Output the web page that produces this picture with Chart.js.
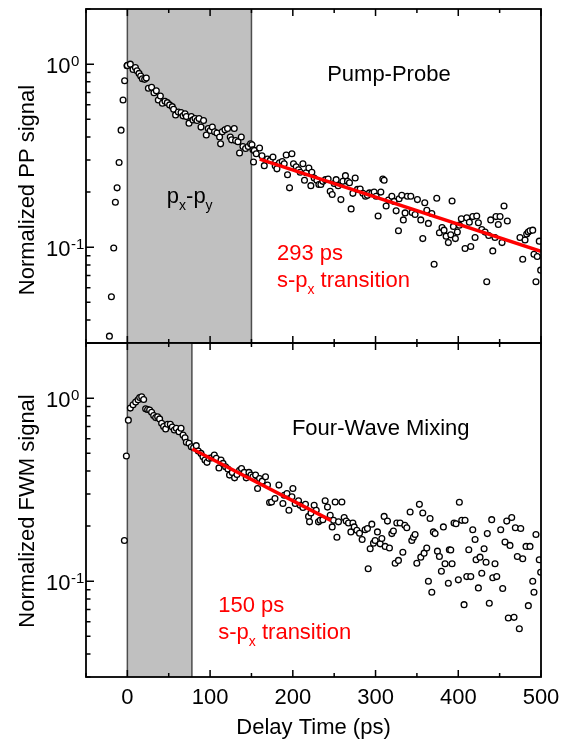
<!DOCTYPE html>
<html>
<head>
<meta charset="utf-8">
<script src="https://cdn.jsdelivr.net/npm/chart.js@4.4.1/dist/chart.umd.min.js"></script>
<style>
  html, body { margin: 0; padding: 0; background: #fff; }
  body { width: 570px; height: 745px; position: relative; overflow: hidden; }
  canvas { position: absolute; left: 0; }
  #c1 { top: 0; }
  #c2 { top: 340px; }
</style>
</head>
<body>
<canvas id="c1" width="570" height="345"></canvas>
<canvas id="c2" width="570" height="405"></canvas>
<script>
// ---------------- DATA ----------------
// Pump-probe (top panel): delay time (ps) and normalized PP signal
const ppTime = [-21.7,-19.3,-16.5,-14.5,-12.4,-10.0,-7.6,-5.2,-3.3,-0.4,
  0,3.6,6.9,9.7,11.7,14.1,16.1,18.1,20.9,22.9,25.4,29.3,32.2,35.0,37.4,39.9,42.3,45.5,48.3,51.1,
  54.3,55.9,58.3,61.6,64.9,67.3,69.7,71.3,74.5,77.3,79.3,81.8,84.2,86.6,89.0,92.1,95.4,97.8,100.2,102.7,
  105.4,108.3,111.5,112.7,114.7,118.0,121.1,124.4,126.0,129.2,130.8,133.7,135.6,137.7,139.7,142.9,146.1,148.9,150.6,151.8,
  152.5,153.4,155.8,159.8,162.7,165.5,169.4,172.7,176.0,178.7,180.8,183.9,187.2,189.6,192.0,193.6,196.0,198.9,200.8,204.1,
  206.9,208.9,212.2,214.1,216.2,219.4,221.8,223.0,225.8,229.1,231.5,233.9,236.3,239.5,242.7,245.2,247.6,250.0,252.4,254.8,
  258.1,260.5,263.6,266.1,268.5,270.5,272.6,275.4,278.1,281.4,284.7,287.8,290.2,292.6,295.5,298.3,300.7,303.1,306.4,308.8,
  310.4,312.8,315.6,319.7,322.5,324.9,327.7,328.5,331.7,333.6,335.7,338.5,342.6,344.2,347.8,350.6,354.7,357.1,359.5,362.0,
  363.9,368.0,370.8,374.0,377.2,380.4,382.8,385.3,388.0,390.9,392.5,394.1,396.5,398.9,401.3,403.7,408.2,410.3,413.4,415.1,
  417.5,420.3,422.3,424.3,428.4,432.4,434.4,436.8,439.2,441.7,444.4,445.6,448.4,450.5,452.9,455.3,459.3,474.6,477.9,480.7,
  482.7,484.6,486.7,490.0,491.5,493.9,495.5,497.9,499.6];
const ppSignal = [0.0327,0.0537,0.099,0.176,0.211,0.290,0.436,0.637,0.811,0.980,
  0.984,1.0,0.936,0.959,0.920,0.890,0.861,0.832,0.826,0.839,0.738,0.747,0.698,0.716,0.637,0.670,0.612,0.627,0.616,0.599,
  0.586,0.567,0.528,0.548,0.544,0.522,0.535,0.517,0.476,0.517,0.496,0.504,0.492,0.504,0.453,0.492,0.410,0.445,0.434,0.453,
  0.427,0.420,0.400,0.367,0.427,0.438,0.445,0.400,0.386,0.445,0.383,0.377,0.327,0.400,0.355,0.346,0.355,0.367,0.363,0.341,
  0.292,0.338,0.324,0.348,0.316,0.279,0.303,0.298,0.311,0.279,0.268,0.289,0.294,0.286,0.319,0.249,0.211,0.324,0.286,0.275,
  0.265,0.257,0.286,0.232,0.255,0.271,0.217,0.257,0.239,0.232,0.220,0.220,0.229,0.234,0.236,0.202,0.194,0.223,0.234,0.217,
  0.182,0.229,0.246,0.229,0.225,0.162,0.197,0.239,0.207,0.208,0.197,0.190,0.192,0.198,0.197,0.200,0.190,0.148,0.200,0.236,
  0.232,0.168,0.181,0.190,0.178,0.158,0.123,0.184,0.192,0.141,0.154,0.190,0.190,0.155,0.151,0.182,0.141,0.1115,0.175,0.159,
  0.135,0.153,0.0808,0.185,0.120,0.128,0.124,0.115,0.106,0.117,0.179,0.130,0.1115,0.121,0.132,0.143,0.0984,0.145,0.137,0.101,
  0.147,0.113,0.148,0.136,0.125,0.121,0.0648,0.116,0.141,0.0955,0.113,0.147,0.133,0.147,0.106,0.168,0.139,0.113,0.086,0.1096,
  0.118,0.121,0.123,0.124,0.0916,0.0648,0.089,0.108,0.075];
// exponential fit (293 ps) end points
const ppFitTime = [160, 500];
const ppFitSignal = [0.303, 0.095];
const ppShade = [0, 150];

// Four-wave mixing (bottom panel)
const fwmTime = [-3.6,-1.2,1.2,3.6,6.9,10.0,12.9,14.9,17.3,19.7,22.1,24.5,26.9,29.3,31.8,34.2,36.6,39.0,41.4,43.8,
  46.3,48.7,51.9,54.3,56.8,59.2,62.4,64.9,67.3,69.7,71.3,74.5,77.3,80.1,83.3,85.7,89.0,91.4,93.8,96.3,
  98.7,101.8,105.1,107.5,110.7,113.2,115.6,118.7,121.6,123.5,126.8,129.6,132.5,135.6,138.0,141.3,143.7,147.0,149.4,151.8,
  155.0,157.4,159.8,163.0,167.0,169.4,171.9,174.3,178.4,183.2,188.0,189.6,192.9,195.3,198.9,200.1,202.9,206.9,208.9,212.2,
  215.3,219.0,220.2,221.9,225.8,228.3,231.0,233.1,236.3,239.1,241.9,245.2,247.6,249.2,251.2,253.3,255.2,259.3,262.1,264.5,
  267.3,270.2,272.6,274.2,277.4,280.6,283.8,287.4,290.2,291.1,293.5,295.5,297.5,299.5,302.3,305.6,307.6,310.4,311.6,314.4,
  316.8,319.7,321.6,323.7,325.7,327.7,329.7,333.0,335.4,337.8,341.8,343.8,345.8,347.8,349.9,353.0,354.7,357.1,358.7,361.9,
  363.9,365.9,368.0,369.9,372.0,374.8,377.2,379.6,382.0,384.0,388.0,389.2,390.9,392.5,394.9,397.3,400.1,401.3,404.2,407.0,
  408.2,410.3,412.7,415.1,417.5,420.3,421.5,424.3,426.3,428.4,431.2,433.6,435.1,437.5,440.4,441.7,444.4,446.5,451.3,453.7,
  456.5,458.6,460.5,462.5,464.6,467.4,469.0,471.4,473.8,475.5,477.9,481.9,484.7,486.7,490.0,491.5,493.9,497.9,499.6];
const fwmSignal = [0.167,0.483,0.758,0.882,0.919,0.951,0.979,1.008,1.016,0.983,0.874,0.866,0.860,0.838,0.803,0.783,0.790,0.770,0.729,0.699,
  0.679,0.720,0.720,0.696,0.670,0.685,0.656,0.685,0.629,0.608,0.574,0.567,0.543,0.536,0.550,0.514,0.499,0.478,0.459,0.446,
  0.469,0.472,0.489,0.469,0.416,0.459,0.440,0.422,0.410,0.380,0.393,0.367,0.383,0.404,0.413,0.393,0.367,0.393,0.380,0.372,
  0.380,0.321,0.364,0.352,0.372,0.335,0.269,0.271,0.283,0.335,0.266,0.295,0.301,0.244,0.289,0.321,0.266,0.275,0.260,0.253,
  0.263,0.226,0.211,0.236,0.260,0.244,0.211,0.215,0.217,0.275,0.254,0.229,0.198,0.215,0.271,0.174,0.211,0.271,0.223,0.213,
  0.208,0.186,0.208,0.198,0.190,0.183,0.169,0.191,0.194,0.117,0.1505,0.205,0.1615,0.167,0.186,0.160,0.171,0.226,0.155,0.213,
  0.152,0.182,0.188,0.1255,0.208,0.130,0.208,0.144,0.202,0.196,0.239,0.167,0.174,0.180,0.1255,0.263,0.1354,0.236,0.1424,0.152,
  0.100,0.220,0.087,0.186,0.182,0.146,0.1366,0.1134,0.198,0.1246,0.0975,0.1486,0.148,0.1246,0.208,0.206,0.1018,0.270,0.215,0.0745,
  0.215,0.106,0.1486,0.106,0.191,0.169,0.131,0.092,0.1354,0.1106,0.1505,0.127,0.182,0.0758,0.217,0.1044,0.1246,0.106,0.191,0.0912,
  0.1636,0.213,0.063,0.157,0.223,0.0635,0.196,0.1366,0.055,0.194,0.1327,0.155,0.0736,0.155,0.100,0.087,0.180,0.131,0.112];
// exponential fit (150 ps) end points
const fwmFitTime = [78.5, 246];
const fwmFitSignal = [0.527, 0.215];
const fwmShade = [0, 78];

// Axes / tick labels
const xMin = -50, xMax = 500;
const xTickValues = [-50,0,50,100,150,200,250,300,350,400,450,500];
const xTickLabels = ['0','100','200','300','400','500'];
const yMin = 0.03, yMax = 2;
const yMajorValues = [1, 0.1];
const yMajorExponents = ['0', '-1'];
const yMinorValues = [0.03,0.04,0.05,0.06,0.07,0.08,0.09,0.2,0.3,0.4,0.5,0.6,0.7,0.8,0.9,2];

// Texts
const xTitle = 'Delay Time (ps)';
const ppYTitle = 'Normalized PP signal';
const fwmYTitle = 'Normalized FWM signal';
const ppLabels = [
  { text: 'Pump-Probe', x: 241.5, y: 0.809, color: '#000' },
  { text: 'p_{x}-p_{y}', x: 47.7, y: 0.174, color: '#000' },
  { text: '293 ps', x: 180.8, y: 0.0851, color: '#ff0000' },
  { text: 's-p_{x} transition', x: 180.8, y: 0.0608, color: '#ff0000' }
];
const fwmLabels = [
  { text: 'Four-Wave Mixing', x: 198.9, y: 0.629, color: '#000' },
  { text: '150 ps', x: 109.9, y: 0.0679, color: '#ff0000' },
  { text: 's-p_{x} transition', x: 109.9, y: 0.0483, color: '#ff0000' }
];

// ---------------- RENDERING ----------------
const FONT = "'Liberation Sans', Arial, Helvetica, sans-serif";
const MAIN = 22, SUB = 14, SUBDROP = 7;
Chart.defaults.font.family = FONT;
Chart.defaults.color = '#000';

function pts(t, v) { return t.map((x, i) => ({ x: x, y: v[i] })); }

function drawRich(ctx, str, x, y, color) {
  const parts = str.split(/_\{([^}]*)\}/);
  ctx.fillStyle = color; ctx.textAlign = 'left'; ctx.textBaseline = 'alphabetic';
  let cx = x;
  parts.forEach((p, i) => {
    if (!p) return;
    const sub = i % 2 === 1;
    ctx.font = (sub ? SUB : MAIN) + 'px ' + FONT;
    ctx.fillText(p, cx, y + (sub ? SUBDROP : 0));
    cx += ctx.measureText(p).width;
  });
}

function deco(o) {
  return {
    id: 'deco',
    beforeDatasetsDraw(ch) {
      const { ctx, chartArea: a, scales: { x } } = ch;
      const x0 = x.getPixelForValue(o.shade[0]), x1 = x.getPixelForValue(o.shade[1]);
      ctx.save();
      ctx.fillStyle = '#c0c0c0';
      ctx.fillRect(x0, a.top, x1 - x0, a.bottom - a.top);
      ctx.strokeStyle = '#4d4d4d'; ctx.lineWidth = 1.5;
      ctx.beginPath();
      ctx.moveTo(x0, a.top); ctx.lineTo(x0, a.bottom);
      ctx.moveTo(x1, a.top); ctx.lineTo(x1, a.bottom);
      ctx.stroke();
      ctx.restore();
    },
    afterDraw(ch) {
      const { ctx, chartArea: a, scales: { x, y } } = ch;
      ctx.save();
      ctx.strokeStyle = '#000'; ctx.lineWidth = 1.8;
      // frame
      ctx.strokeRect(a.left, a.top, a.right - a.left, a.bottom - a.top);
      // x ticks (inside, top and bottom)
      ctx.lineWidth = 1.5;
      ctx.beginPath();
      xTickValues.forEach(v => {
        const px = x.getPixelForValue(v);
        const len = (v % 100 === 0) ? 7 : 4;
        ctx.moveTo(px, a.bottom); ctx.lineTo(px, a.bottom - len);
        ctx.moveTo(px, a.top); ctx.lineTo(px, a.top + len);
      });
      // y ticks (inside, left)
      yMajorValues.forEach(v => {
        const py = y.getPixelForValue(v);
        ctx.moveTo(a.left, py); ctx.lineTo(a.left + 8, py);
      });
      yMinorValues.forEach(v => {
        const py = y.getPixelForValue(v);
        ctx.moveTo(a.left, py); ctx.lineTo(a.left + 4.5, py);
      });
      ctx.stroke();
      // y tick labels 10^n
      ctx.fillStyle = '#000'; ctx.textAlign = 'left'; ctx.textBaseline = 'alphabetic';
      yMajorValues.forEach((v, i) => {
        const py = y.getPixelForValue(v);
        ctx.font = MAIN + 'px ' + FONT;
        ctx.fillText('10', 46, py + 8.5);
        const w = ctx.measureText('10').width;
        ctx.font = '15px ' + FONT;
        ctx.fillText(yMajorExponents[i], 46 + w + 0.5, py + 1.5);
      });
      // y title
      ctx.save();
      ctx.translate(34, o.titleY);
      ctx.rotate(-Math.PI / 2);
      ctx.font = MAIN + 'px ' + FONT;
      ctx.textAlign = 'center';
      ctx.fillText(o.yTitle, 0, 0);
      ctx.restore();
      // annotations
      o.labels.forEach(l => drawRich(ctx, l.text, x.getPixelForValue(l.x), y.getPixelForValue(l.y), l.color));
      ctx.restore();
    }
  };
}

function makeChart(id, d) {
  const isBottom = d.bottom;
  const xScale = {
    type: 'linear', min: xMin, max: xMax, display: isBottom,
    grid: { display: false, drawTicks: false }, border: { display: false },
    afterBuildTicks: s => { s.ticks = xTickValues.map(v => ({ value: v })); },
    ticks: {
      autoSkip: false, maxRotation: 0, padding: 8, font: { size: MAIN }, color: '#000',
      callback: v => (xTickLabels.indexOf(String(v)) >= 0 ? String(v) : '')
    },
    title: { display: true, text: xTitle, font: { size: MAIN }, color: '#000', padding: { top: 0, bottom: 4 } }
  };
  if (isBottom) {
    xScale.afterFit = s => { s.height = 68; s.paddingLeft = 0; s.paddingRight = 0; };
  }
  return new Chart(document.getElementById(id), {
    type: 'scatter',
    data: {
      datasets: [
        {
          type: 'line', data: pts(d.fitT, d.fitV), borderColor: '#ff0000', borderWidth: 3.5,
          pointRadius: 0, fill: false, tension: 0
        },
        {
          data: pts(d.t, d.v), pointRadius: 2.9, pointBorderWidth: 1.3,
          pointBackgroundColor: '#fff', pointBorderColor: '#000', showLine: false
        }
      ]
    },
    options: {
      responsive: false, maintainAspectRatio: false, animation: false, devicePixelRatio: 1,
      layout: { autoPadding: false, padding: { left: 86, right: 29, top: isBottom ? 3 : 9, bottom: isBottom ? 0 : 2 } },
      plugins: { legend: { display: false }, tooltip: { enabled: false } },
      scales: {
        x: xScale,
        y: { type: 'logarithmic', min: yMin, max: yMax, bounds: 'data', display: false }
      }
    },
    plugins: [deco(d)]
  });
}

makeChart('c1', { t: ppTime, v: ppSignal, fitT: ppFitTime, fitV: ppFitSignal, shade: ppShade,
  yTitle: ppYTitle, titleY: 190, labels: ppLabels, bottom: false });
makeChart('c2', { t: fwmTime, v: fwmSignal, fitT: fwmFitTime, fitV: fwmFitSignal, shade: fwmShade,
  yTitle: fwmYTitle, titleY: 171, labels: fwmLabels, bottom: true });
</script>
</body>
</html>
